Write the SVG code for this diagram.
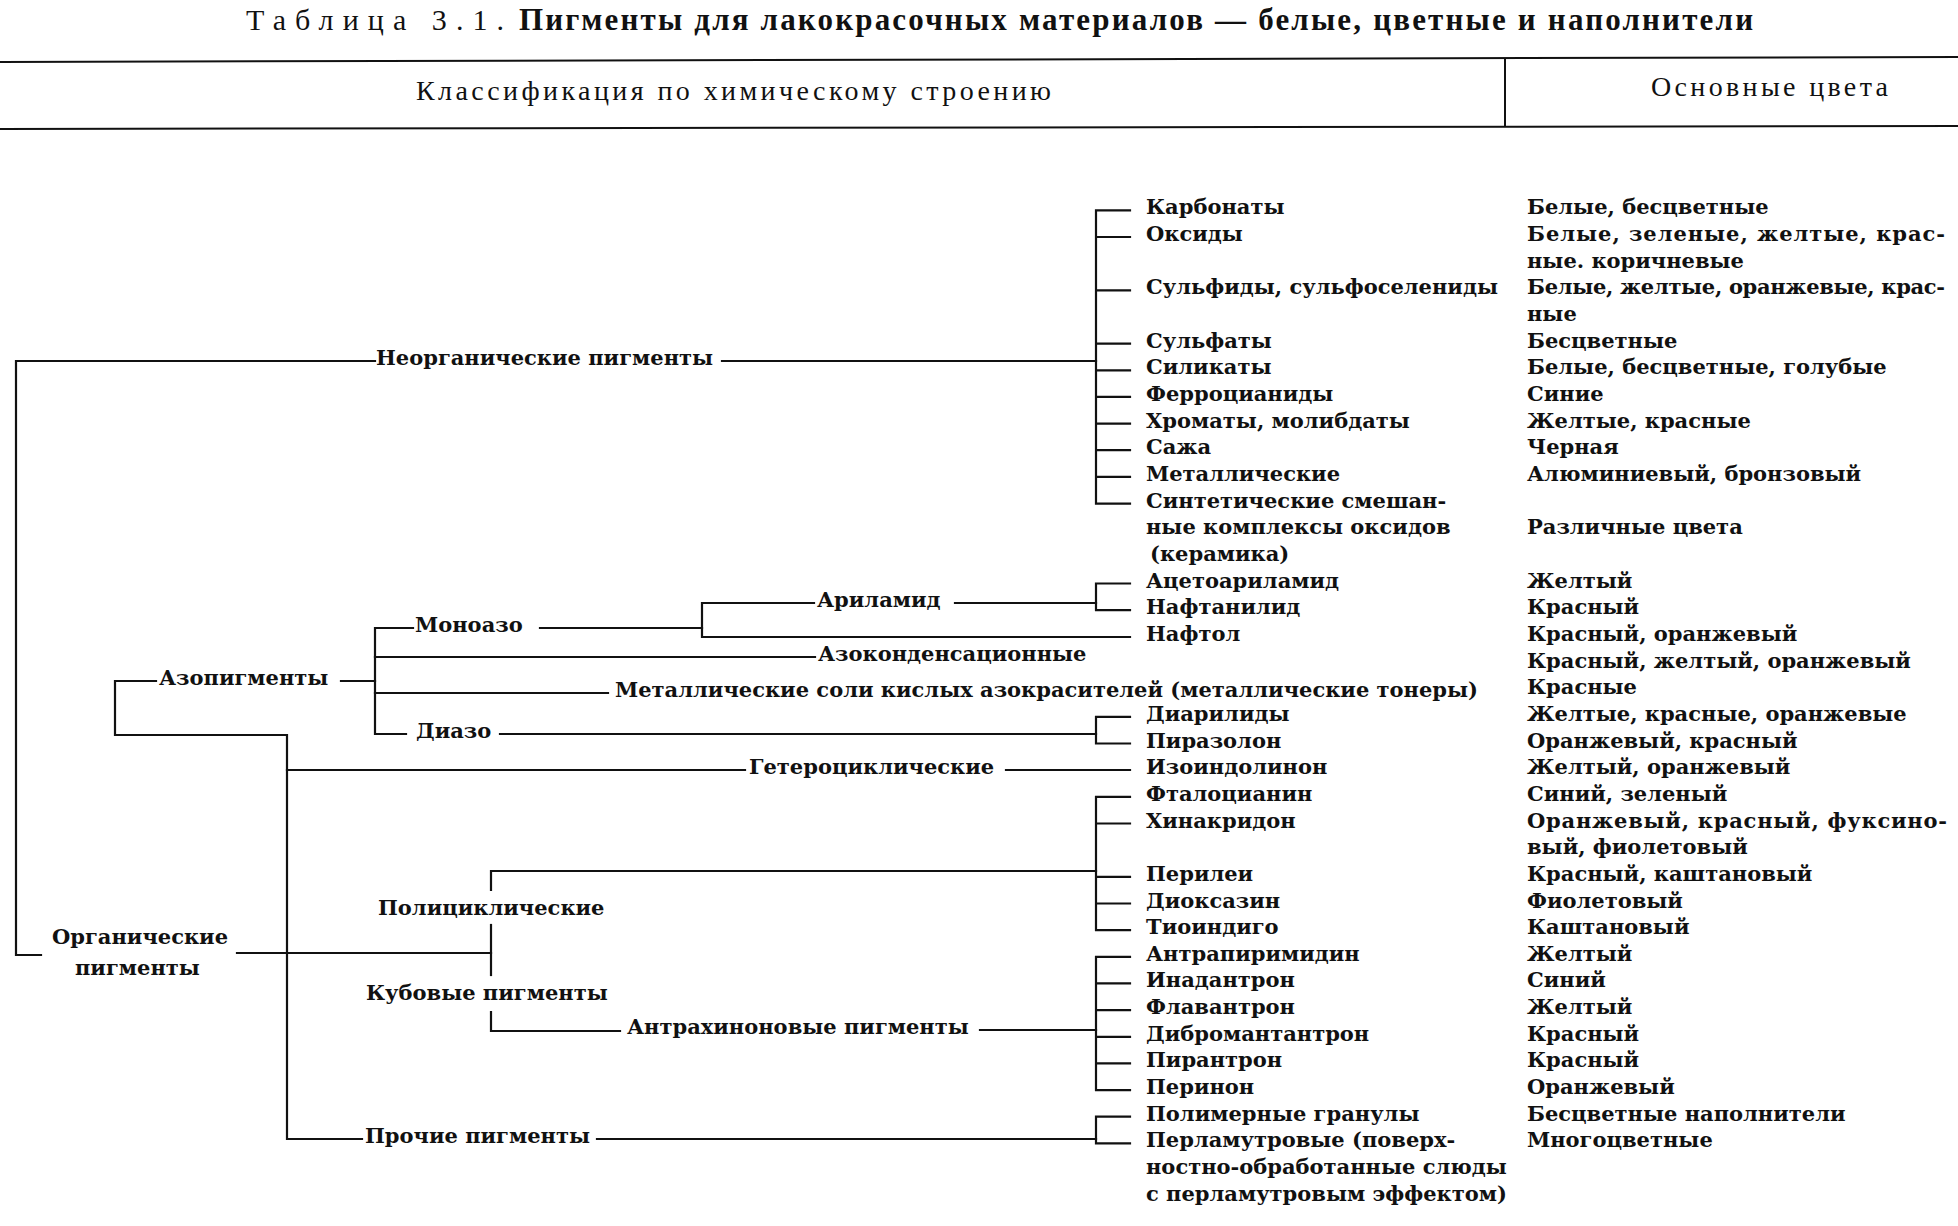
<svg xmlns="http://www.w3.org/2000/svg" width="1958" height="1226" viewBox="0 0 1958 1226">
<style>
.t{font-family:"DejaVu Serif","Liberation Serif",serif;font-size:21px;font-weight:bold;fill:#111}
.h{font-family:"Liberation Serif","Times New Roman",serif;font-size:28px;fill:#111}
.tt{font-family:"Liberation Serif","Times New Roman",serif;font-size:30px;fill:#111}
.tb{font-family:"Liberation Serif","Times New Roman",serif;font-size:31px;font-weight:bold;fill:#111}
.c{stroke:#111;stroke-width:2.2;fill:none;stroke-linecap:square}
.r{stroke:#111;stroke-width:2;fill:none}
</style>
<rect width="1958" height="1226" fill="#fff"/>
<g id="title">
<text class="tt" x="246" y="30" textLength="258" lengthAdjust="spacing">Таблица 3.1.</text>
<text class="tb" x="519" y="30" textLength="1234" lengthAdjust="spacing">Пигменты для лакокрасочных материалов — белые, цветные и наполнители</text>
</g>
<g id="header">
<line class="r" x1="0" y1="62" x2="1958" y2="57"/>
<line class="r" x1="0" y1="129" x2="1958" y2="126"/>
<line class="r" x1="1505" y1="58" x2="1505" y2="127"/>
<text class="h" x="416" y="100" textLength="635" lengthAdjust="spacing">Классификация по химическому строению</text>
<text class="h" x="1651" y="96" textLength="237" lengthAdjust="spacing">Основные цвета</text>
</g>
<g id="connectors">
<path class="c" d="M375,361 H16 V955 H41"/>
<path class="c" d="M722,361 H1096"/>
<path class="c" d="M237,953 H491"/>
<path class="c" d="M156,681 H115 V735 H287 V1139 H362"/>
<path class="c" d="M341,681 H375"/>
<path class="c" d="M413,628 H375 V734 H406"/>
<path class="c" d="M540,628 H702"/>
<path class="c" d="M814,603 H702 V637 H1130"/>
<path class="c" d="M955,603 H1096"/>
<path class="c" d="M375,657 H815"/>
<path class="c" d="M375,693 H608"/>
<path class="c" d="M500,734 H1096"/>
<path class="c" d="M287,770 H745"/>
<path class="c" d="M1006,770 H1130"/>
<path class="c" d="M491,890 V871 H1096"/>
<path class="c" d="M491,925 V975"/>
<path class="c" d="M491,1012 V1031 H620"/>
<path class="c" d="M980,1030 H1096"/>
<path class="c" d="M597,1139 H1096"/>
<path class="c" d="M1130,210.3 H1096 V503.6 H1130 M1096,237 H1130 M1096,290.3 H1130 M1096,343.6 H1130 M1096,370.3 H1130 M1096,396.9 H1130 M1096,423.6 H1130 M1096,450.2 H1130 M1096,476.9 H1130"/>
<path class="c" d="M1130,583.5 H1096 V610.2 H1130"/>
<path class="c" d="M1130,716.8 H1096 V743.5 H1130"/>
<path class="c" d="M1130,796.8 H1096 V930.1 H1130 M1096,823.5 H1130 M1096,876.8 H1130 M1096,903.5 H1130"/>
<path class="c" d="M1130,956.8 H1096 V1090.1 H1130 M1096,983.4 H1130 M1096,1010.1 H1130 M1096,1036.8 H1130 M1096,1063.4 H1130"/>
<path class="c" d="M1130,1116.7 H1096 V1143.4 H1130"/>
</g>
<g id="n-inorganic"><text class="t" x="376" y="365">Неорганические пигменты</text></g>
<g id="n-organic"><text class="t" x="52" y="944">Органические</text><text class="t" x="75" y="975">пигменты</text></g>
<g id="n-azo"><text class="t" x="159" y="685">Азопигменты</text></g>
<g id="n-monoazo"><text class="t" x="415" y="632">Моноазо</text></g>
<g id="n-arylamide"><text class="t" x="817" y="607">Ариламид</text></g>
<g id="n-azocond"><text class="t" x="818" y="661">Азоконденсационные</text></g>
<g id="n-metalsalts"><text class="t" x="615" y="697">Металлические соли кислых азокрасителей  (металлические тонеры)</text></g>
<g id="n-diazo"><text class="t" x="416" y="738">Диазо</text></g>
<g id="n-hetero"><text class="t" x="749" y="774">Гетероциклические</text></g>
<g id="n-polycyclic"><text class="t" x="378" y="915">Полициклические</text></g>
<g id="n-vat"><text class="t" x="366" y="1000">Кубовые пигменты</text></g>
<g id="n-anthraq"><text class="t" x="627" y="1034">Антрахиноновые пигменты</text></g>
<g id="n-other"><text class="t" x="365" y="1143">Прочие пигменты</text></g>
<g id="items">
<g id="i-carbonates"><text class="t" x="1146" y="214.3">Карбонаты</text></g>
<g id="i-oxides"><text class="t" x="1146" y="241">Оксиды</text></g>
<g id="i-sulfides"><text class="t" x="1146" y="294.3">Сульфиды, сульфоселениды</text></g>
<g id="i-sulfates"><text class="t" x="1146" y="347.6">Сульфаты</text></g>
<g id="i-silicates"><text class="t" x="1146" y="374.3">Силикаты</text></g>
<g id="i-ferro"><text class="t" x="1146" y="400.9">Ферроцианиды</text></g>
<g id="i-chromates"><text class="t" x="1146" y="427.6">Хроматы, молибдаты</text></g>
<g id="i-soot"><text class="t" x="1146" y="454.2">Сажа</text></g>
<g id="i-metallic"><text class="t" x="1146" y="480.9">Металлические</text></g>
<g id="i-ceramic"><text class="t" x="1146" y="507.6">Синтетические смешан-</text><text class="t" x="1146" y="534.2">ные комплексы оксидов</text><text class="t" x="1150" y="560.9">(керамика)</text></g>
<g id="i-acetoaryl"><text class="t" x="1146" y="587.5">Ацетоариламид</text></g>
<g id="i-naphthanil"><text class="t" x="1146" y="614.2">Нафтанилид</text></g>
<g id="i-naphthol"><text class="t" x="1146" y="640.9">Нафтол</text></g>
<g id="i-diaryl"><text class="t" x="1146" y="720.8">Диарилиды</text></g>
<g id="i-pyrazolone"><text class="t" x="1146" y="747.5">Пиразолон</text></g>
<g id="i-isoindol"><text class="t" x="1146" y="774.2">Изоиндолинон</text></g>
<g id="i-phthalo"><text class="t" x="1146" y="800.8">Фталоцианин</text></g>
<g id="i-quinacr"><text class="t" x="1146" y="827.5">Хинакридон</text></g>
<g id="i-perylene"><text class="t" x="1146" y="880.8">Перилеи</text></g>
<g id="i-dioxazine"><text class="t" x="1146" y="907.5">Диоксазин</text></g>
<g id="i-thioindigo"><text class="t" x="1146" y="934.1">Тиоиндиго</text></g>
<g id="i-anthrapyr"><text class="t" x="1146" y="960.8">Антрапиримидин</text></g>
<g id="i-indanthr"><text class="t" x="1146" y="987.4">Инадантрон</text></g>
<g id="i-flavanthr"><text class="t" x="1146" y="1014.1">Флавантрон</text></g>
<g id="i-dibrom"><text class="t" x="1146" y="1040.8">Дибромантантрон</text></g>
<g id="i-pyranthr"><text class="t" x="1146" y="1067.4">Пирантрон</text></g>
<g id="i-perinone"><text class="t" x="1146" y="1094.1">Перинон</text></g>
<g id="i-polymer"><text class="t" x="1146" y="1120.7">Полимерные гранулы</text></g>
<g id="i-pearl"><text class="t" x="1146" y="1147.4">Перламутровые (поверх-</text><text class="t" x="1146" y="1174.1">ностно-обработанные слюды</text><text class="t" x="1146" y="1200.7">с перламутровым эффектом)</text></g>
</g>
<g id="colors">
<text class="t" x="1527" y="214.3">Белые, бесцветные</text>
<text class="t" x="1527" y="241" textLength="418" lengthAdjust="spacing">Белые, зеленые, желтые, крас-</text>
<text class="t" x="1527" y="267.6">ные. коричневые</text>
<text class="t" x="1527" y="294.3" textLength="418" lengthAdjust="spacing">Белые, желтые, оранжевые, крас-</text>
<text class="t" x="1527" y="320.9">ные</text>
<text class="t" x="1527" y="347.6">Бесцветные</text>
<text class="t" x="1527" y="374.3">Белые, бесцветные, голубые</text>
<text class="t" x="1527" y="400.9">Синие</text>
<text class="t" x="1527" y="427.6">Желтые, красные</text>
<text class="t" x="1527" y="454.2">Черная</text>
<text class="t" x="1527" y="480.9">Алюминиевый, бронзовый</text>
<text class="t" x="1527" y="534.2">Различные цвета</text>
<text class="t" x="1527" y="587.5">Желтый</text>
<text class="t" x="1527" y="614.2">Красный</text>
<text class="t" x="1527" y="640.9">Красный, оранжевый</text>
<text class="t" x="1527" y="667.5">Красный, желтый, оранжевый</text>
<text class="t" x="1527" y="694.2">Красные</text>
<text class="t" x="1527" y="720.8">Желтые, красные, оранжевые</text>
<text class="t" x="1527" y="747.5">Оранжевый, красный</text>
<text class="t" x="1527" y="774.2">Желтый, оранжевый</text>
<text class="t" x="1527" y="800.8">Синий, зеленый</text>
<text class="t" x="1527" y="827.5" textLength="420" lengthAdjust="spacing">Оранжевый, красный, фуксино-</text>
<text class="t" x="1527" y="854.1">вый, фиолетовый</text>
<text class="t" x="1527" y="880.8">Красный, каштановый</text>
<text class="t" x="1527" y="907.5">Фиолетовый</text>
<text class="t" x="1527" y="934.1">Каштановый</text>
<text class="t" x="1527" y="960.8">Желтый</text>
<text class="t" x="1527" y="987.4">Синий</text>
<text class="t" x="1527" y="1014.1">Желтый</text>
<text class="t" x="1527" y="1040.8">Красный</text>
<text class="t" x="1527" y="1067.4">Красный</text>
<text class="t" x="1527" y="1094.1">Оранжевый</text>
<text class="t" x="1527" y="1120.7">Бесцветные наполнители</text>
<text class="t" x="1527" y="1147.4">Многоцветные</text>
</g>
</svg>
